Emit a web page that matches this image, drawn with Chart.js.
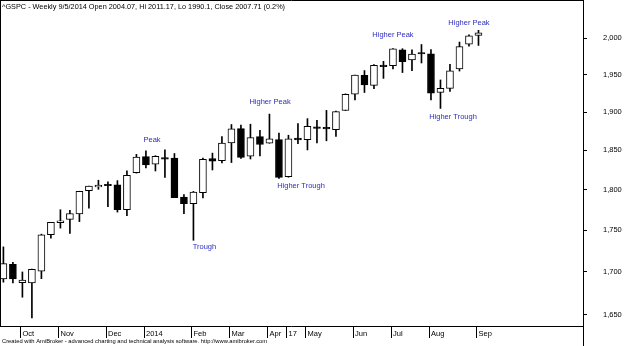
<!DOCTYPE html>
<html><head><meta charset="utf-8">
<script src="https://cdn.jsdelivr.net/npm/chart.js@4/dist/chart.umd.min.js"></script>
<style>html,body{margin:0;padding:0;background:#fff;overflow:hidden}#wrap{position:relative;width:624px;height:346px}</style>
</head><body><div id="wrap"><canvas id="c" width="624" height="346"></canvas></div>
<script>
// ---- data ----
const weeks = ['9/20/2013','9/27/2013','10/4/2013','10/11/2013','10/18/2013','10/25/2013','11/1/2013','11/8/2013','11/15/2013','11/22/2013','11/29/2013','12/6/2013','12/13/2013','12/20/2013','12/27/2013','1/3/2014','1/10/2014','1/17/2014','1/24/2014','1/31/2014','2/7/2014','2/14/2014','2/21/2014','2/28/2014','3/7/2014','3/14/2014','3/21/2014','3/28/2014','4/4/2014','4/11/2014','4/17/2014','4/25/2014','5/2/2014','5/9/2014','5/16/2014','5/23/2014','5/30/2014','6/6/2014','6/13/2014','6/20/2014','6/27/2014','7/3/2014','7/11/2014','7/18/2014','7/25/2014','8/1/2014','8/8/2014','8/15/2014','8/22/2014','8/29/2014','9/5/2014'];
const opens  = [1691.7,1709.2,1687.3,1687.2,1701.0,1744.7,1759.4,1763.4,1770.0,1798.8,1803.5,1806.6,1806.2,1775.4,1821.5,1842.0,1832.3,1840.6,1840.0,1790.9,1782.7,1796.5,1839.5,1836.8,1859.5,1878.3,1842.5,1867.7,1859.2,1863.9,1816.5,1865.8,1864.0,1879.5,1880.0,1876.7,1902.0,1923.9,1949.0,1935.5,1962.9,1962.3,1984.2,1970.0,1979.0,1978.5,1926.0,1931.5,1958.0,1992.0,2004.07];
const highs  = [1729.9,1711.4,1700.0,1703.4,1745.3,1759.8,1775.2,1774.5,1798.2,1804.8,1812.0,1810.0,1811.5,1823.8,1844.9,1849.4,1843.2,1850.8,1846.0,1793.9,1798.0,1840.0,1846.5,1867.9,1883.6,1883.0,1884.0,1875.9,1897.3,1872.5,1869.6,1884.9,1891.3,1889.1,1902.2,1901.3,1924.2,1949.4,1955.6,1963.9,1968.2,1985.6,1985.6,1984.0,1991.4,1984.5,1942.9,1964.0,1994.8,2005.0,2011.17];
const lows   = [1688.0,1687.1,1670.4,1646.5,1692.1,1740.5,1752.7,1746.2,1760.6,1777.2,1800.6,1779.1,1772.3,1768.0,1821.0,1827.7,1823.7,1815.5,1790.3,1770.5,1737.9,1790.0,1825.0,1834.0,1834.4,1839.6,1839.0,1842.8,1859.2,1814.4,1815.8,1858.7,1850.6,1859.8,1862.4,1868.0,1902.0,1916.0,1926.0,1931.0,1945.0,1958.0,1952.9,1955.6,1966.0,1916.0,1904.8,1927.5,1955.0,1989.0,1990.1];
const closes = [1709.9,1691.8,1690.5,1703.2,1744.5,1759.8,1761.6,1770.6,1798.2,1804.8,1805.8,1805.1,1775.3,1818.3,1841.4,1831.4,1842.4,1838.7,1790.3,1782.6,1797.0,1838.6,1836.3,1859.5,1878.0,1841.1,1866.5,1857.6,1865.1,1815.7,1864.9,1863.4,1881.1,1878.5,1877.9,1900.5,1923.6,1949.4,1936.2,1962.9,1961.0,1985.4,1967.6,1978.2,1978.3,1925.2,1931.6,1955.1,1988.4,2003.4,2007.71];
const yTicks = [1650,1700,1750,1800,1850,1900,1950,2000];
const monthLabels = ['Oct','Nov','Dec','2014','Feb','Mar','Apr','17','May','Jun','Jul','Aug','Sep'];
const monthWeeks  = ['10/4/2013','11/1/2013','12/6/2013','1/3/2014','2/7/2014','3/7/2014','4/4/2014','4/17/2014','5/2/2014','6/6/2014','7/3/2014','8/1/2014','9/5/2014'];
const noteTexts  = ['Peak','Trough','Higher Peak','Higher Trough','Higher Peak','Higher Trough','Higher Peak'];
const noteWeeks  = [15.64,21.16,28.06,31.32,41.0,47.32,49.0];
const notePrices = [1863,1730,1913,1805,2005,1894,2021];
const titleText  = '^GSPC - Weekly 9/5/2014 Open 2004.07, Hi 2011.17, Lo 1990.1, Close 2007.71 (0.2%)';
const footerText = 'Created with AmiBroker - advanced charting and technical analysis software. http://www.amibroker.com';

// ---- chart ----
const FONT = "'Liberation Sans', Arial, sans-serif";
const wickData = weeks.map((w,i)=>({x:i, y:[lows[i], highs[i]]}));
const bodyData = weeks.map((w,i)=>({x:i, y:[opens[i], closes[i]]}));

const framePlugin = {
  id:'frame',
  afterDraw(chart){
    const ctx = chart.ctx, a = chart.chartArea;
    ctx.save();
    ctx.strokeStyle = '#000'; ctx.lineWidth = 1;
    ctx.beginPath();
    ctx.moveTo(0, 0.5); ctx.lineTo(a.right, 0.5);
    ctx.moveTo(0.5, 0); ctx.lineTo(0.5, a.bottom);
    ctx.moveTo(0, a.bottom + 0.5); ctx.lineTo(a.right, a.bottom + 0.5);
    ctx.moveTo(a.right + 0.5, 0); ctx.lineTo(a.right + 0.5, chart.height);
    ctx.stroke();
    ctx.fillStyle = '#000';
    ctx.textBaseline = 'middle'; ctx.textAlign = 'left';
    ctx.font = '7.3px ' + FONT;
    ctx.fillText(titleText, 2, 7);
    ctx.font = '5.8px ' + FONT;
    ctx.fillText(footerText, 2, 341);
    const xs = chart.scales.x, ys = chart.scales.y;
    ctx.fillStyle = '#2d2dbf';
    ctx.textAlign = 'center';
    ctx.font = '7.5px ' + FONT;
    noteTexts.forEach((t,i)=>{
      ctx.fillText(t, xs.getPixelForValue(noteWeeks[i]), ys.getPixelForValue(notePrices[i]));
    });
    ctx.restore();
  }
};

const noPad = s => { s.paddingTop = 0; s.paddingBottom = 0; s.paddingLeft = 0; s.paddingRight = 0; };

new Chart(document.getElementById('c'), {
  type:'bar',
  data:{ datasets:[
    {data:bodyData, barThickness:7, minBarLength:1.5, grouped:false, order:0,
     backgroundColor: c => closes[c.dataIndex] < opens[c.dataIndex] ? '#000' : '#fff',
     borderColor:'#000', borderWidth:1, borderSkipped:false},
    {data:wickData, barThickness:1, grouped:false, order:1, backgroundColor:'#000', borderWidth:0}
  ]},
  options:{
    responsive:false, animation:false, devicePixelRatio:1,
    layout:{padding:0},
    plugins:{legend:{display:false}, tooltip:{enabled:false}},
    scales:{
      x:{type:'linear', bounds:'data', min:-0.358, max:61.0, offset:false,
        grid:{display:true, offset:false, drawOnChartArea:false, drawTicks:true, tickLength:12, color:'#000', lineWidth:1},
        border:{display:false},
        afterBuildTicks: s => { s.ticks = monthWeeks.map(w=>({value: weeks.indexOf(w) - 0.2})); },
        ticks:{autoSkip:false, maxRotation:0, minRotation:0, align:'start', labelOffset:2, padding:-9,
          color:'#000', font:{size:7.5, family:FONT}, callback:(v,i)=>monthLabels[i]},
        afterFit: s => { s.height = 20; noPad(s); }
      },
      y:{type:'logarithmic', bounds:'data', position:'right', min:1637.3, max:2054,
        grid:{display:true, drawOnChartArea:false, drawTicks:true, tickLength:4, color:'#000'},
        border:{display:false},
        afterBuildTicks: s => { s.ticks = yTicks.map(v=>({value:v})); },
        ticks:{padding:16, crossAlign:'near', color:'#000', font:{size:7.5, family:FONT},
          callback: v => Number(v).toLocaleString('en-US')},
        afterFit: s => { s.width = 41; noPad(s); }
      }
    }
  },
  plugins:[framePlugin]
});
</script></body></html>
